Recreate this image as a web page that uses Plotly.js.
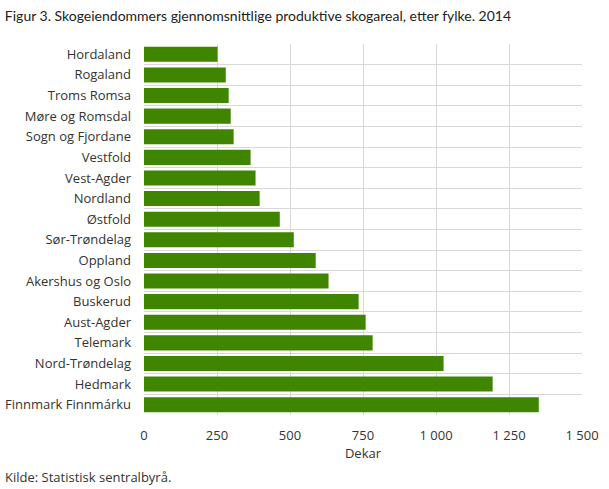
<!DOCTYPE html>
<html><head><meta charset="utf-8">
<script src="https://cdn.plot.ly/plotly-3.0.1.min.js"></script>
<style>html,body{margin:0;padding:0;background:#fff;}#chart{width:609px;height:489px;}</style>
</head><body><div id="chart"></div>
<script>
var counties = ["Hordaland","Rogaland","Troms Romsa","Møre og Romsdal","Sogn og Fjordane","Vestfold","Vest-Agder","Nordland","Østfold","Sør-Trøndelag","Oppland","Akershus og Oslo","Buskerud","Aust-Agder","Telemark","Nord-Trøndelag","Hedmark","Finnmark Finnmárku"];
var dekar = [252,280,290,297,307,365,382,396,465,513,588,632,735,759,783,1026,1194,1352];
var xTicks = [0,250,500,750,1000,1250,1500];

var font = "'Open Sans', sans-serif";
Plotly.newPlot("chart", [{
  type: "bar", orientation: "h",
  y: counties, x: dekar,
  marker: {color: "#3f8500"},
  hoverinfo: "x+y"
}], {
  width: 609, height: 489,
  margin: {l: 144, r: 27, t: 44, b: 74},
  paper_bgcolor: "#fff", plot_bgcolor: "#fff",
  separators: ", ",
  bargap: 0.27,
  showlegend: false,
  font: {family: font, size: 13, color: "#333"},
  title: {text: "Figur 3. Skogeiendommers gjennomsnittlige produktive skogareal, etter fylke. 2014",
          x: 0.008, xanchor: "left", y: 0.967, yanchor: "middle",
          font: {family: "Lato, sans-serif", size: 14, color: "#222"}},
  xaxis: {range: [0, 1500], tickvals: xTicks, tickformat: ",d",
          showgrid: true, gridcolor: "#d8d8d8", gridwidth: 1, zeroline: false,
          showline: false, ticks: "", ticklen: 0,
          ticklabelstandoff: 11,
          tickfont: {size: 13, color: "#333"},
          title: {text: "Dekar", font: {size: 13, color: "#333"}, standoff: 3}},
  yaxis: {type: "category", autorange: "reversed", tickson: "boundaries",
          showgrid: true, gridcolor: "#d8d8d8", gridwidth: 1,
          ticks: "", showline: false, zeroline: false,
          ticklabelstandoff: 12,
          tickfont: {size: 13, color: "#333"}},
  annotations: [{text: "Kilde: Statistisk sentralbyrå.", xref: "paper", yref: "paper",
                 x: -141/438, xanchor: "left", y: -0.166, yanchor: "middle", showarrow: false,
                 font: {size: 13, color: "#333"}}]
}, {displayModeBar: false, staticPlot: true});
</script></body></html>
